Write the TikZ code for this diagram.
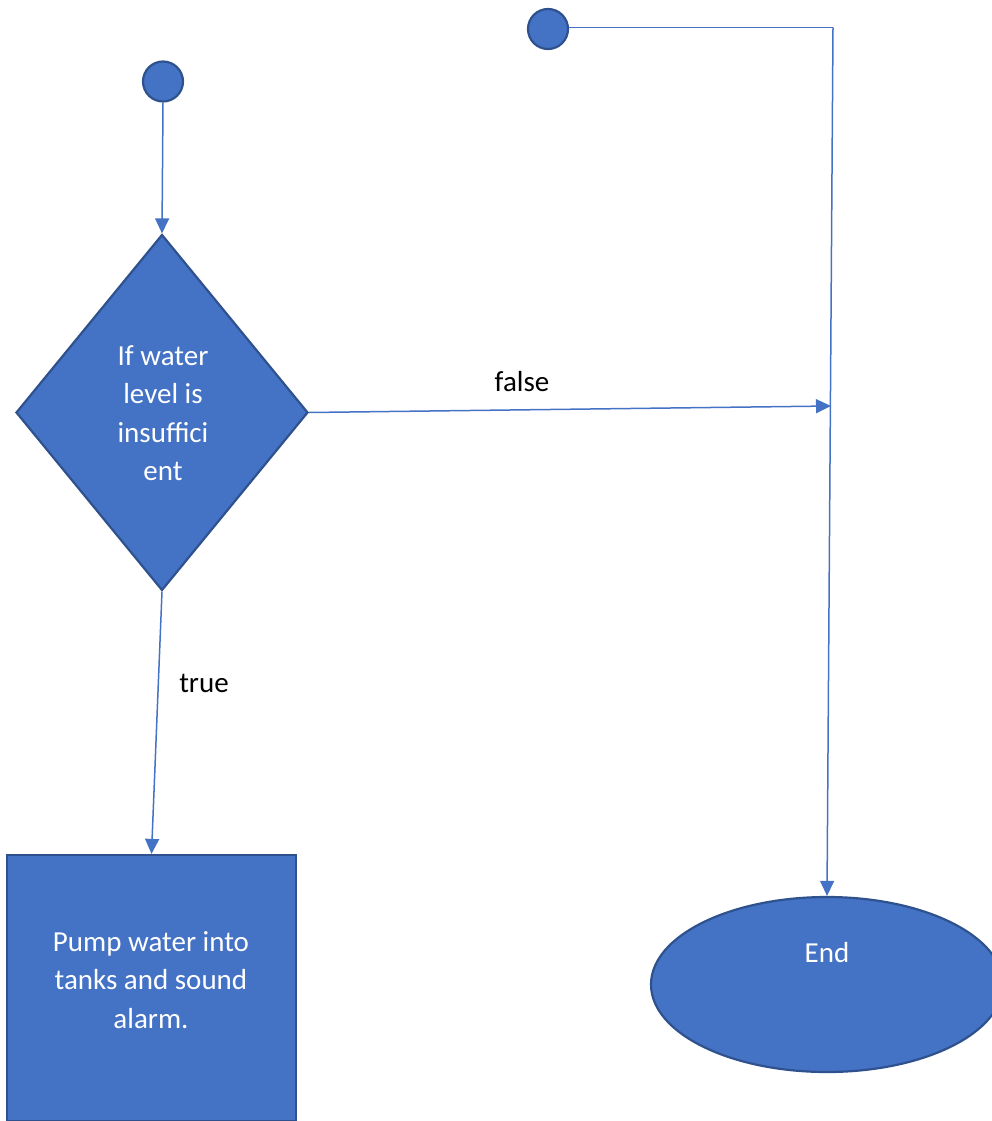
\documentclass[tikz,border=0pt]{standalone}
\usepackage{fontspec}
\setmainfont{Carlito}
\usetikzlibrary{shapes.geometric,arrows.meta}
\definecolor{ofill}{HTML}{4472C4}
\definecolor{oedge}{HTML}{2F528F}
\definecolor{oline}{HTML}{4472C4}
\begin{document}
\begin{tikzpicture}[x=1pt,y=-1pt,
  shapebox/.style={fill=ofill,draw=oedge,line width=2.2pt,inner sep=0pt},
  conn/.style={draw=oline,line width=1.5pt,-{Triangle[length=15pt,width=14pt]}},
  plain/.style={draw=oline,line width=1.5pt},
  wtext/.style={text=white,font=\fontsize{29}{38.5}\selectfont,align=center},
  btext/.style={text=black,font=\fontsize{29}{38.5}\selectfont}]
\clip (0,0) rectangle (992,1121);
\path[use as bounding box] (0,0) rectangle (992,1121);
% shapes
\node[shapebox,circle,minimum size=40pt] (c1) at (163,81.5) {};
\node[shapebox,circle,minimum size=40pt] (c2) at (548,29) {};
\node[shapebox,diamond,minimum width=292pt,minimum height=356pt] (d) at (162,412.5) {};
\node[shapebox,rectangle,minimum width=289pt,minimum height=266pt] (r) at (151.5,988) {};
\node[shapebox,ellipse,minimum width=352pt,minimum height=175pt] (e) at (827,984.5) {};
% texts
\node[wtext] (dt) at (163,413) {If water\\level is\\insuffici\\ent};
\node[wtext] (rt) at (151,980) {Pump water into\\tanks and sound\\alarm.};
\node[wtext] (et) at (827,953) {End};
\node[btext] (lf) at (522,382) {false};
\node[btext] (lt) at (204,683) {true};
% connectors
\coordinate (corner) at (833,27.5);
\coordinate (fend) at (831,406);
\draw[conn] (c1.south) -- (d.north);
\draw[plain] (c2.east |- corner) -- (corner);
\draw[conn] (corner) -- (e.north);
\draw[conn] (d.east) -- (fend);
\draw[conn] (d.south) -- (r.north);
\end{tikzpicture}
\end{document}
